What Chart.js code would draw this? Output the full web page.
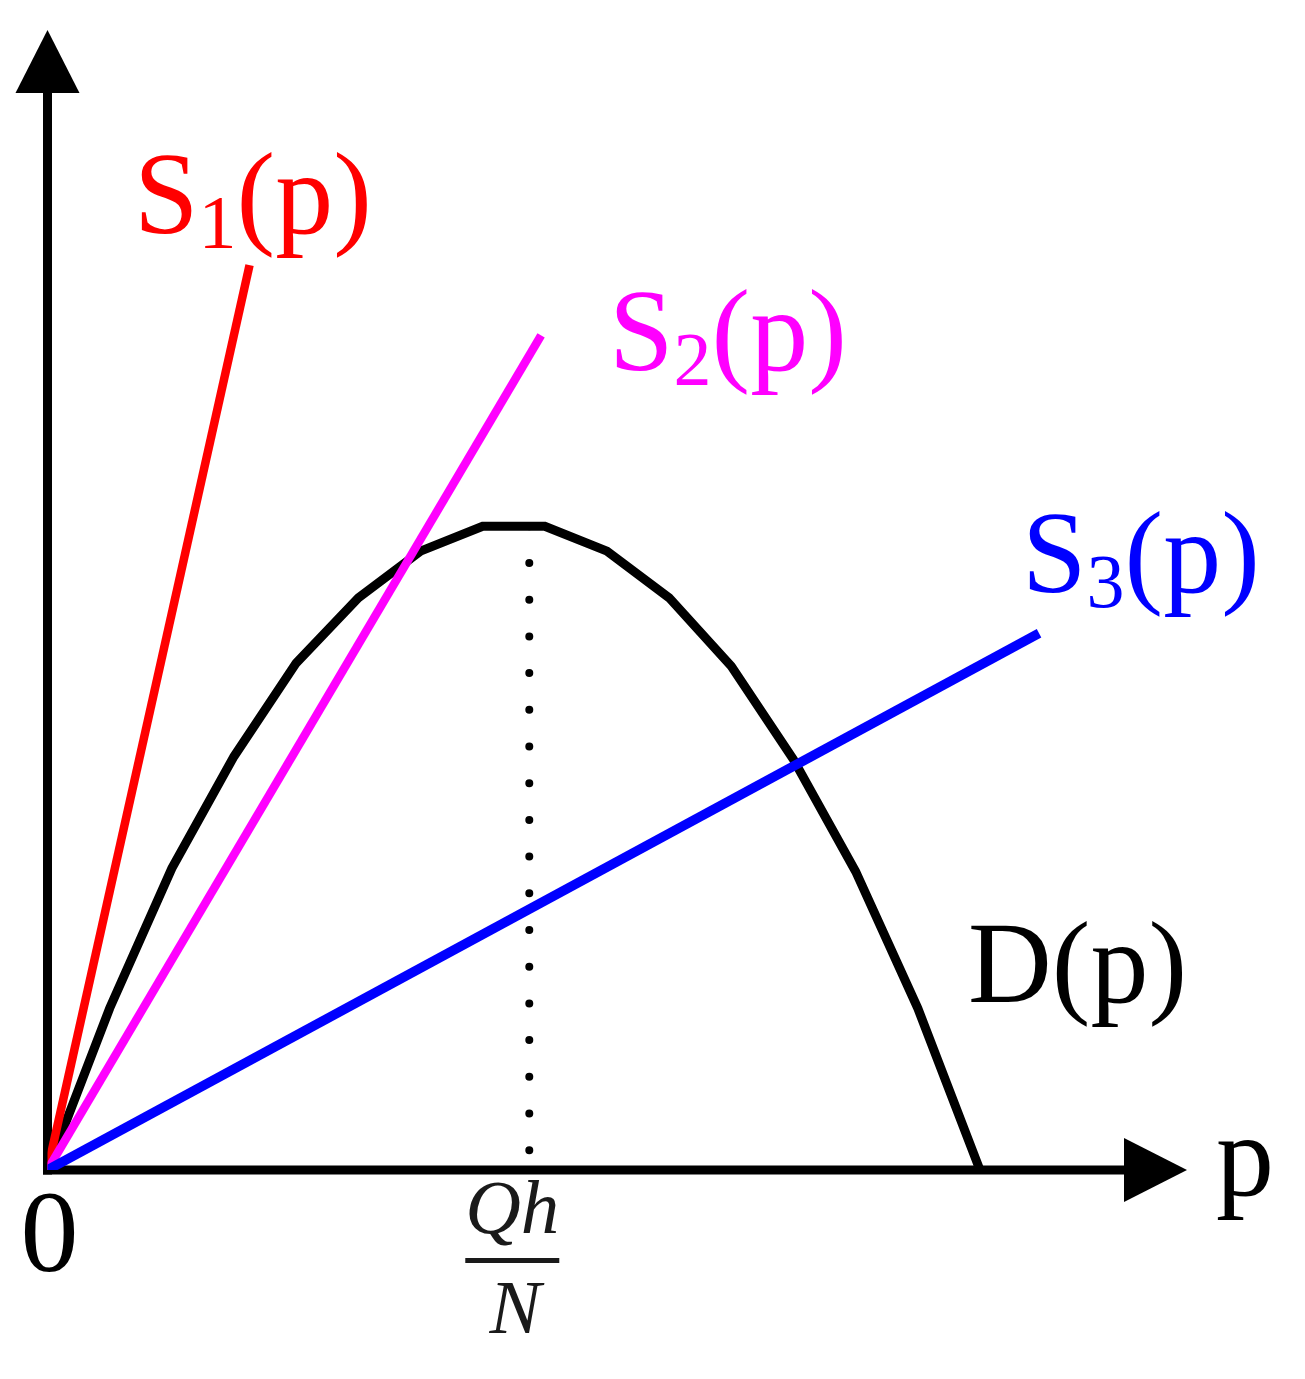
<!DOCTYPE html>
<html>
<head>
<meta charset="utf-8">
<script src="https://cdn.jsdelivr.net/npm/chart.js@4/dist/chart.umd.min.js"></script>
<style>
  html, body { margin: 0; padding: 0; background: #fff; }
  #wrap { width: 1305px; height: 1379px; position: relative; }
</style>
</head>
<body>
<div id="wrap"><canvas id="supplyDemand"></canvas></div>
<script>
// Demand curve D(p) (p in arbitrary units)
const demandP = [0, 1, 2, 3, 4, 5, 6, 7, 8, 9, 10, 11, 12, 13, 14, 15];
const demandQ = [0, 2.6, 4.85, 6.65, 8.15, 9.2, 9.95, 10.35, 10.35, 9.95, 9.2, 8.1, 6.6, 4.8, 2.6, 0];

// Supply lines through the origin: [start, end]
const s1P = [0, 3.25];
const s1Q = [0, 14.55];
const s2P = [0, 7.94];
const s2Q = [0, 13.42];
const s3P = [0, 15.95];
const s3Q = [0, 8.63];

// Qh/N marker (dotted drop line from the peak)
const peakP = [7.75, 7.75];
const peakQ = [10.35, 0];

const axisMax = 18.33;

const toPoints = (xs, ys) => xs.map((x, i) => ({ x: x, y: ys[i] }));

const SERIF = '"Liberation Serif", "Times New Roman", serif';

// axes with arrow heads, drawn under the curves
const axesPlugin = {
    id: 'arrowAxes',
    beforeDatasetsDraw(chart) {
        const { ctx, chartArea } = chart;
        const x0 = chart.scales.x.getPixelForValue(0);
        const y0 = chart.scales.y.getPixelForValue(0);
        const head = 63, half = 32;
        ctx.save();
        ctx.strokeStyle = '#000';
        ctx.fillStyle = '#000';
        ctx.lineWidth = 9;
        // vertical axis
        ctx.beginPath();
        ctx.moveTo(x0, y0 + 4.5);
        ctx.lineTo(x0, chartArea.top + head);
        ctx.stroke();
        ctx.beginPath();
        ctx.moveTo(x0, chartArea.top);
        ctx.lineTo(x0 - half, chartArea.top + head);
        ctx.lineTo(x0 + half, chartArea.top + head);
        ctx.closePath();
        ctx.fill();
        // horizontal axis
        ctx.beginPath();
        ctx.moveTo(x0 - 4.5, y0);
        ctx.lineTo(chartArea.right - head, y0);
        ctx.stroke();
        ctx.beginPath();
        ctx.moveTo(chartArea.right, y0);
        ctx.lineTo(chartArea.right - head, y0 - half);
        ctx.lineTo(chartArea.right - head, y0 + half);
        ctx.closePath();
        ctx.fill();
        ctx.restore();
    }
};

function drawLabel(ctx, x, y, main, sub, rest, color) {
    ctx.fillStyle = color;
    ctx.textAlign = 'left';
    ctx.textBaseline = 'alphabetic';
    ctx.font = `116px ${SERIF}`;
    ctx.fillText(main, x, y);
    let cx = x + ctx.measureText(main).width;
    if (sub) {
        ctx.font = `76px ${SERIF}`;
        ctx.fillText(sub, cx, y + 15);
        cx += ctx.measureText(sub).width;
    }
    ctx.font = `116px ${SERIF}`;
    ctx.fillText(rest, cx, y);
}

const labelsPlugin = {
    id: 'curveLabels',
    afterDraw(chart) {
        const { ctx } = chart;
        const xs = chart.scales.x;
        const y0 = chart.scales.y.getPixelForValue(0);
        ctx.save();
        drawLabel(ctx, 134, 233, 'S', '1', '(p)', '#ff0000');
        drawLabel(ctx, 609, 370, 'S', '2', '(p)', '#ff00ff');
        drawLabel(ctx, 1022, 592, 'S', '3', '(p)', '#0000ff');
        drawLabel(ctx, 968, 1002, 'D(p)', '', '', '#000');

        // axis names
        ctx.fillStyle = '#000';
        ctx.font = `116px ${SERIF}`;
        ctx.textAlign = 'left';
        ctx.fillText('p', 1216, 1195);
        ctx.textAlign = 'center';
        ctx.fillText('0', xs.getPixelForValue(0) + 2, 1271);

        // Qh / N fraction under the dotted line
        const cx = xs.getPixelForValue(peakP[0]) - 17;
        ctx.fillStyle = '#1a1a1a';
        ctx.font = `italic 77px ${SERIF}`;
        ctx.fillText('Qh', cx, y0 + 63);
        ctx.fillRect(cx - 47, y0 + 88, 94, 5);
        ctx.fillText('N', cx + 3, y0 + 163);
        ctx.restore();
    }
};

const ctx = document.getElementById('supplyDemand').getContext('2d');

new Chart(ctx, {
    type: 'line',
    data: {
        datasets: [
            {
                label: 'D(p)',
                data: toPoints(demandP, demandQ),
                borderColor: '#000',
                borderWidth: 9,
                order: 5
            },
            {
                label: 'Qh/N',
                data: toPoints(peakP, peakQ),
                borderColor: '#000',
                borderWidth: 8,
                borderDash: [0, 36.7],
                borderCapStyle: 'round',
                order: 4
            },
            {
                label: 'S1(p)',
                data: toPoints(s1P, s1Q),
                borderColor: '#ff0000',
                borderWidth: 8.5,
                order: 3
            },
            {
                label: 'S2(p)',
                data: toPoints(s2P, s2Q),
                borderColor: '#ff00ff',
                borderWidth: 8.5,
                order: 2
            },
            {
                label: 'S3(p)',
                data: toPoints(s3P, s3Q),
                borderColor: '#0000ff',
                borderWidth: 9.5,
                order: 1
            }
        ]
    },
    options: {
        responsive: true,
        maintainAspectRatio: false,
        animation: false,
        layout: {
            padding: { left: 47.5, right: 118, top: 30, bottom: 209 }
        },
        elements: {
            line: { tension: 0, fill: false, borderJoinStyle: 'miter' },
            point: { radius: 0, hoverRadius: 0 }
        },
        plugins: {
            legend: { display: false },
            tooltip: { enabled: false }
        },
        scales: {
            x: { type: 'linear', min: 0, max: axisMax, display: false },
            y: { type: 'linear', min: 0, max: axisMax, display: false }
        }
    },
    plugins: [axesPlugin, labelsPlugin]
});
</script>
</body>
</html>
